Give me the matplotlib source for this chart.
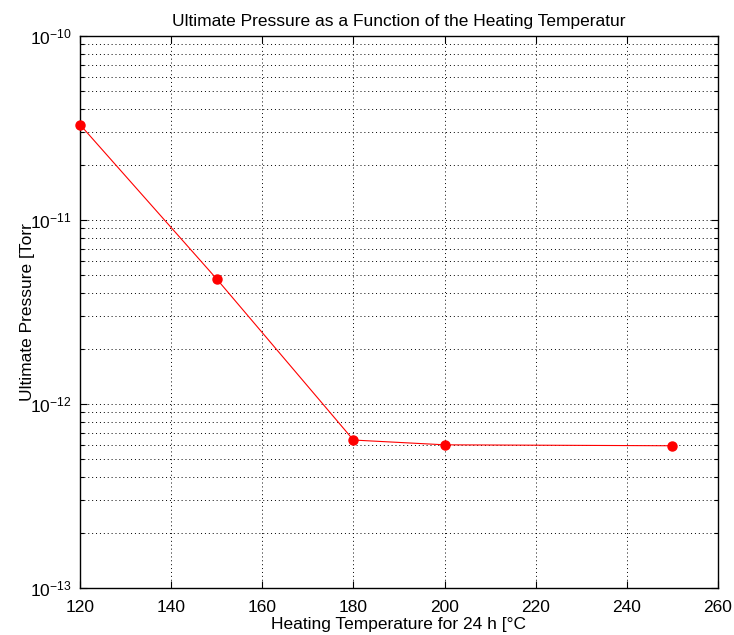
#!/usr/bin/env python3
import numpy as np
import matplotlib
matplotlib.use("Agg")
import matplotlib.pyplot as plt
from matplotlib.ticker import LogLocator, FixedLocator, NullFormatter, FuncFormatter

# data
temperature_c = [120, 150, 180, 200, 250]
pressure_torr = [3.3e-11, 4.78e-12, 6.37e-13, 6.0e-13, 5.93e-13]

x_ticks = [120, 140, 160, 180, 200, 220, 240, 260]
y_decades = [1e-13, 1e-12, 1e-11, 1e-10]

plt.rcParams["font.family"] = ["Liberation Sans", "DejaVu Sans"]
plt.rcParams["mathtext.fontset"] = "custom"
plt.rcParams["mathtext.rm"] = "Liberation Sans"
plt.rcParams["mathtext.it"] = "Liberation Sans"

fig = plt.figure(figsize=(7.34, 6.35), dpi=100)
ax = fig.add_axes([80 / 734, 47 / 635, 638 / 734, 552 / 635])

ax.plot(temperature_c, pressure_torr, color="red", lw=0.8,
        marker="o", markersize=6.5, markerfacecolor="red", markeredgecolor="red",
        clip_on=False, zorder=3)

ax.set_yscale("log")
ax.set_xlim(120, 260)
ax.set_ylim(1e-13, 1e-10)

ax.xaxis.set_major_locator(FixedLocator(x_ticks))
ax.yaxis.set_major_locator(FixedLocator(y_decades))
ax.yaxis.set_minor_locator(LogLocator(base=10, subs=np.arange(2, 10), numticks=20))
ax.yaxis.set_minor_formatter(NullFormatter())


def decade_label(v, pos):
    e = int(round(np.log10(v)))
    return r"$10^{%d}$" % e


ax.yaxis.set_major_formatter(FuncFormatter(decade_label))

# matlab-like grid: dotted black on majors and log minors
ax.grid(True, which="major", axis="both", linestyle=(0, (1, 3)), color="black", lw=0.7)
ax.grid(True, which="minor", axis="y", linestyle=(0, (1, 3)), color="black", lw=0.7)

ax.tick_params(which="both", direction="in", top=True, right=True, labelsize=12.5, colors="black")
ax.tick_params(which="major", length=5, width=0.8)
ax.tick_params(which="minor", length=3, width=0.8)
ax.tick_params(axis="x", pad=9)
ax.tick_params(axis="y", pad=6)
for s in ax.spines.values():
    s.set_linewidth(1.0)

ax.set_title("Ultimate Pressure as a Function of the Heating Temperatur", fontsize=12.5, pad=7)
ax.set_xlabel("Heating Temperature for 24 h [°C", fontsize=12.5)
ax.set_ylabel("Ultimate Pressure [Torr", fontsize=12.5)
ax.xaxis.set_label_coords(0.5, -0.053)
ax.yaxis.set_label_coords(-0.071, 0.5)

fig.savefig("out.png", dpi=100)
